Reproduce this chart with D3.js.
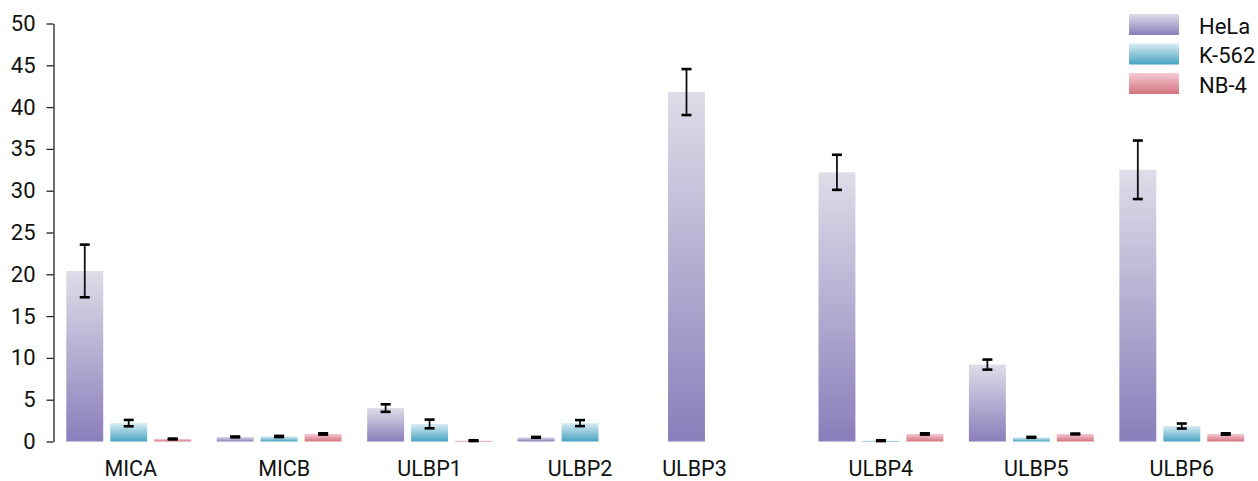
<!DOCTYPE html>
<html>
<head>
<meta charset="utf-8">
<script src="https://cdn.jsdelivr.net/npm/d3@7"></script>
<style>
  html, body { margin: 0; padding: 0; background: #fff; }
  svg { display: block; }
  text { font-family: Roboto, "Liberation Sans", sans-serif; fill: #111; }
</style>
</head>
<body>
<svg id="chart" width="1258" height="481"></svg>
<script>
// Ligand categories and cell lines
const categories = ["MICA", "MICB", "ULBP1", "ULBP2", "ULBP3", "ULBP4", "ULBP5", "ULBP6"];
const seriesNames = ["HeLa", "K-562", "NB-4"];

// Mean values per cell line (null = not measured)
const helaValues = [20.4, 0.55, 4.0, 0.5, 41.8, 32.2, 9.2, 32.5];
const k562Values = [2.2, 0.6, 2.1, 2.2, null, 0.1, 0.5, 1.85];
const nb4Values  = [0.3, 0.9, 0.1, null, null, 0.9, 0.9, 0.9];

// Error (± half-range) per cell line
const helaErrors = [3.15, 0.05, 0.45, 0.05, 2.75, 2.1, 0.6, 3.5];
const k562Errors = [0.38, 0.07, 0.52, 0.36, null, 0.05, 0.05, 0.3];
const nb4Errors  = [0.05, 0.08, 0.05, null, null, 0.08, 0.05, 0.08];

const yTicks = [0, 5, 10, 15, 20, 25, 30, 35, 40, 45, 50];

const valuesBySeries = [helaValues, k562Values, nb4Values];
const errorsBySeries = [helaErrors, k562Errors, nb4Errors];

// Gradient stops (top, bottom) per series
const gradientColors = [
  ["#dedde8", "#8a7ebb"],
  ["#d8ecf3", "#47a4c2"],
  ["#f6cbd4", "#d3737f"]
];

const svg = d3.select("#chart");
const axisX = 53.5;
const plotTop = 23.5, plotBottom = 441.5;

const y = d3.scaleLinear().domain([0, 50]).range([plotBottom, plotTop]);
const x0 = d3.scaleBand().domain(categories).range([axisX, 1257])
  .paddingInner(0.17).paddingOuter(0.085);
const x1 = d3.scaleBand().domain(seriesNames).range([0, x0.bandwidth()])
  .paddingInner(0.16).paddingOuter(0);

// Vertical gradients, one per series, stretched over each bar
const defs = svg.append("defs");
seriesNames.forEach((s, i) => {
  const g = defs.append("linearGradient")
    .attr("id", "grad" + i)
    .attr("x1", 0).attr("y1", 0).attr("x2", 0).attr("y2", 1);
  g.append("stop").attr("offset", "0%").attr("stop-color", gradientColors[i][0]);
  g.append("stop").attr("offset", "100%").attr("stop-color", gradientColors[i][1]);
});

// Flatten rows
const rows = [];
categories.forEach((c, ci) => {
  seriesNames.forEach((s, si) => {
    const v = valuesBySeries[si][ci];
    if (v == null) return;
    rows.push({ cat: c, series: s, si, value: v, err: errorsBySeries[si][ci] });
  });
});

// Bars
svg.append("g").selectAll("rect")
  .data(rows)
  .join("rect")
  .attr("x", d => x0(d.cat) + x1(d.series))
  .attr("y", d => y(d.value))
  .attr("width", x1.bandwidth())
  .attr("height", d => y(0) - y(d.value))
  .attr("fill", d => `url(#grad${d.si})`);

// Error bars
const capHalf = 5;
const eb = svg.append("g").selectAll("g")
  .data(rows.filter(d => d.err != null))
  .join("g")
  .attr("transform", d => `translate(${x0(d.cat) + x1(d.series) + x1.bandwidth() / 2},0)`);
eb.append("line")
  .attr("x1", 0).attr("x2", 0)
  .attr("y1", d => y(d.value + d.err))
  .attr("y2", d => y(d.value - d.err))
  .attr("stroke", "#111").attr("stroke-width", 1.8);
eb.selectAll("line.cap")
  .data(d => [d.value + d.err, d.value - d.err])
  .join("line")
  .attr("class", "cap")
  .attr("x1", -capHalf).attr("x2", capHalf)
  .attr("y1", v => y(v)).attr("y2", v => y(v))
  .attr("stroke", "#000").attr("stroke-width", 2.6);

// Y axis
const yAxis = d3.axisLeft(y).tickValues(yTicks).tickSize(7).tickPadding(11).tickSizeOuter(0);
const ag = svg.append("g").attr("transform", `translate(${axisX},0)`).call(yAxis);
ag.select(".domain").attr("stroke", "#222").attr("stroke-width", 1.3);
ag.selectAll(".tick line").attr("stroke", "#222").attr("stroke-width", 1.3);
ag.selectAll(".tick text")
  .attr("font-size", 22)
  .attr("font-family", "Roboto, 'Liberation Sans', sans-serif")
  .attr("fill", "#111");

// Category labels (small horizontal nudges for a few names)
const labelNudge = { MICA: 2, MICB: 5, ULBP3: -36, ULBP5: 5 };
svg.append("g").selectAll("text")
  .data(categories)
  .join("text")
  .attr("x", d => x0(d) + x0.bandwidth() / 2 + (labelNudge[d] || 0))
  .attr("y", 476)
  .attr("text-anchor", "middle")
  .attr("font-size", 21.5)
  .text(d => d);

// Legend
const legend = svg.append("g").attr("transform", "translate(1129,14)");
const li = legend.selectAll("g")
  .data(seriesNames)
  .join("g")
  .attr("transform", (d, i) => `translate(0,${i * 29.5})`);
li.append("rect")
  .attr("width", 50).attr("height", 21)
  .attr("fill", (d, i) => `url(#grad${i})`);
li.append("text")
  .attr("x", 70).attr("y", 19.5)
  .attr("font-size", 22)
  .text(d => d);
</script>
</body>
</html>
